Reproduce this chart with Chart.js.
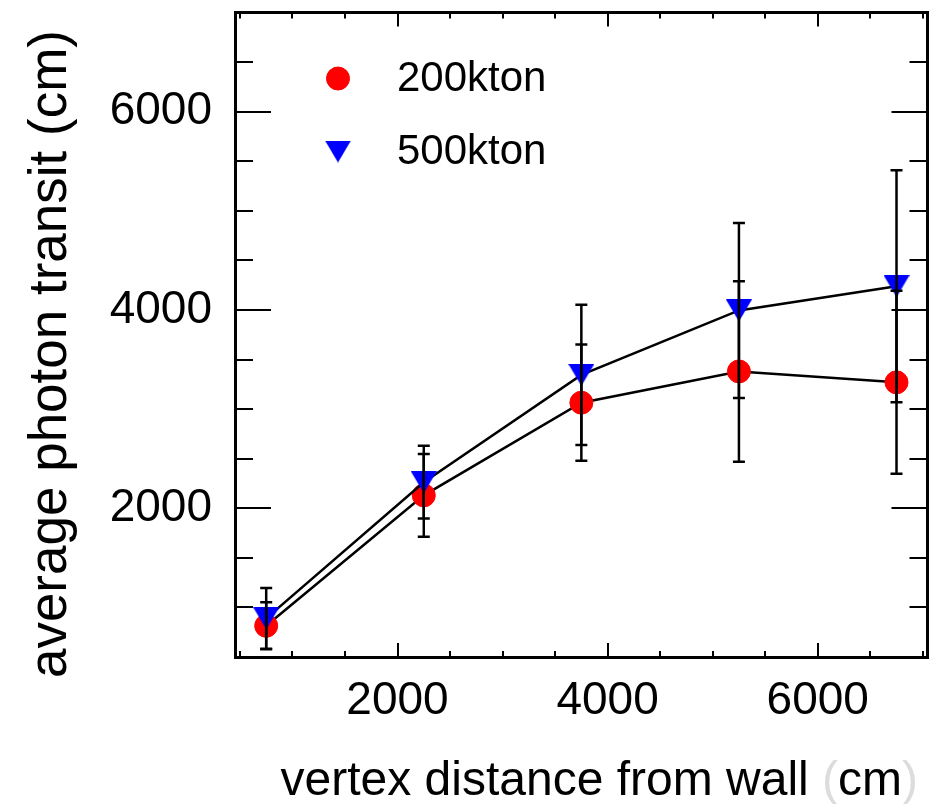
<!DOCTYPE html>
<html>
<head>
<meta charset="utf-8">
<script src="https://cdn.jsdelivr.net/npm/chart.js@4.4.1/dist/chart.umd.min.js"></script>
<style>
  html, body { margin: 0; padding: 0; background: #ffffff; }
  #wrap { width: 940px; height: 804px; }
</style>
</head>
<body>
<div id="wrap"><canvas id="plot" width="940" height="804"></canvas></div>
<script>
// Vertex distance bins (cm) and mean photon transit per detector size
const distances = [750, 2250, 3750, 5250, 6750];
const transit200 = [815, 2130, 3065, 3380, 3270];
const err200 = [238, 417, 587, 910, 923];
const transit500 = [890, 2263, 3345, 3995, 4240];
const err500 = [307, 367, 708, 882, 1170];

const seriesLabels = ['200kton', '500kton'];
const xTickLabels = [2000, 4000, 6000];
const yTickLabels = [2000, 4000, 6000];
const xRange = [453, 7045];
const yRange = [500, 7000];
const minorStep = 500;

const xTitle = 'vertex distance from wall (cm)';
const yTitle = 'average photon transit (cm)';

const FONT = '"Liberation Sans", Arial, Helvetica, sans-serif';

// minor tick positions across each axis range
function minorTicks(range) {
  const out = [];
  for (let v = Math.ceil(range[0] / minorStep) * minorStep; v <= range[1]; v += minorStep) out.push(v);
  return out;
}

// downward triangle marker drawn so that its bounding box is centred on the point
function downTriangle(w, h, color) {
  const c = document.createElement('canvas');
  c.width = w; c.height = h;
  const g = c.getContext('2d');
  g.fillStyle = color;
  g.beginPath();
  g.moveTo(0, 0); g.lineTo(w, 0); g.lineTo(w / 2, h);
  g.closePath();
  g.fill();
  return c;
}
const blueTriangle = downTriangle(26, 22, '#0000ff');

function toPoints(xs, ys) {
  return xs.map((x, i) => ({ x, y: ys[i] }));
}

// vertical error bars: lower/upper pairs separated by a gap
function errorBars(xs, ys, es) {
  const pts = [];
  xs.forEach((x, i) => {
    pts.push({ x, y: ys[i] - es[i] }, { x, y: ys[i] + es[i] }, { x, y: null });
  });
  return pts;
}

function axisScale(axis, position, weight, values, len, opts) {
  opts = opts || {};
  const range = axis === 'x' ? xRange : yRange;
  return {
    type: 'linear',
    axis, position, weight,
    min: range[0], max: range[1],
    afterBuildTicks: s => { s.ticks = values.map(v => ({ value: v })); },
    afterFit: s => {
      if (axis === 'x') s.height = opts.size || 0; else s.width = opts.size || 0;
      s.paddingTop = 0; s.paddingBottom = 0; s.paddingLeft = 0; s.paddingRight = 0;
    },
    grid: {
      drawOnChartArea: false, drawTicks: true,
      tickLength: -len, tickWidth: 2, lineWidth: 2, tickColor: '#000000'
    },
    border: { display: !!opts.border, color: '#000000', width: 3 },
    ticks: {
      display: !!opts.labels,
      autoSkip: false,
      maxRotation: 0,
      color: '#000000',
      padding: opts.padding || 0,
      font: { family: FONT, size: opts.fontSize || 12 },
      callback: v => String(v)
    }
  };
}

const titlesPlugin = {
  id: 'axisTitles',
  afterDraw(chart) {
    const ctx = chart.ctx;
    ctx.save();
    ctx.fillStyle = '#000000';

    // y title, rotated, anchored at its upper end
    ctx.font = '53px ' + FONT;
    ctx.translate(51, 30);
    ctx.rotate(-Math.PI / 2);
    ctx.textAlign = 'right';
    ctx.textBaseline = 'middle';
    ctx.fillText(yTitle, 0, 0);
    ctx.setTransform(1, 0, 0, 1, 0, 0);

    // x title, right aligned, with pale parentheses
    ctx.font = '48px ' + FONT;
    ctx.textAlign = 'left';
    ctx.textBaseline = 'alphabetic';
    const parts = xTitle.split(/([()])/).filter(p => p.length);
    const total = parts.reduce((w, p) => w + ctx.measureText(p).width, 0);
    let x = 918 - total;
    parts.forEach(p => {
      ctx.fillStyle = (p === '(' || p === ')') ? '#dcdcdc' : '#000000';
      ctx.fillText(p, x, 795);
      x += ctx.measureText(p).width;
    });
    ctx.restore();
  }
};

const legendPlugin = {
  id: 'insetLegend',
  afterDraw(chart) {
    const ctx = chart.ctx;
    const area = chart.chartArea;
    const entries = [
      { ds: 0, label: seriesLabels[0] },
      { ds: 1, label: seriesLabels[1] }
    ];
    ctx.save();
    entries.forEach((e, i) => {
      const d = chart.data.datasets[e.ds];
      const mx = area.left + 103;
      const my = area.top + 66 + i * 73;
      ctx.fillStyle = d.pointBackgroundColor;
      ctx.strokeStyle = d.pointBorderColor;
      ctx.lineWidth = d.pointBorderWidth;
      Chart.helpers.drawPoint(ctx, {
        pointStyle: d.pointStyle, radius: d.pointRadius,
        rotation: 0, borderWidth: d.pointBorderWidth
      }, mx, my);
      ctx.fillStyle = '#000000';
      ctx.font = '42px ' + FONT;
      ctx.textAlign = 'left';
      ctx.textBaseline = 'middle';
      ctx.fillText(e.label, area.left + 162, my + 1);
    });
    ctx.restore();
  }
};

const errorStyle = {
  type: 'line',
  showLine: true,
  spanGaps: false,
  borderColor: '#000000',
  borderWidth: 2.5,
  pointStyle: 'line',
  pointRadius: 6,
  pointHoverRadius: 6,
  pointBorderWidth: 2.5,
  pointBorderColor: '#000000',
  pointBackgroundColor: '#000000',
  xAxisID: 'x', yAxisID: 'y',
  order: 0
};

new Chart(document.getElementById('plot'), {
  type: 'line',
  data: {
    datasets: [
      {
        label: seriesLabels[0],
        data: toPoints(distances, transit200),
        borderColor: '#000000', borderWidth: 2.5,
        pointStyle: 'circle', pointRadius: 11.5, pointBorderWidth: 1,
        pointBackgroundColor: '#ff0000', pointBorderColor: '#ff0000',
        xAxisID: 'x', yAxisID: 'y', order: 3
      },
      {
        label: seriesLabels[1],
        data: toPoints(distances, transit500),
        borderColor: '#000000', borderWidth: 2.5,
        pointStyle: blueTriangle, pointRadius: 12, pointBorderWidth: 0,
        pointBackgroundColor: '#0000ff', pointBorderColor: '#0000ff',
        xAxisID: 'x', yAxisID: 'y', order: 2
      },
      Object.assign({ label: seriesLabels[0] + ' error', data: errorBars(distances, transit200, err200) }, errorStyle),
      Object.assign({ label: seriesLabels[1] + ' error', data: errorBars(distances, transit500, err500) }, errorStyle)
    ]
  },
  options: {
    responsive: false,
    animation: false,
    devicePixelRatio: 1,
    layout: { padding: { top: 8, right: 9, left: 0, bottom: 0 } },
    plugins: { legend: { display: false }, tooltip: { enabled: false } },
    scales: {
      xMinor: axisScale('x', 'bottom', 0, minorTicks(xRange), 6),
      x: axisScale('x', 'bottom', 1, xTickLabels, 14, { size: 147, border: true, labels: true, padding: 31, fontSize: 46 }),
      xTopMinor: axisScale('x', 'top', 0, minorTicks(xRange), 6),
      xTop: axisScale('x', 'top', 1, xTickLabels, 14, { border: true }),
      yMinor: axisScale('y', 'left', 0, minorTicks(yRange), 18),
      y: axisScale('y', 'left', 1, yTickLabels, 36, { size: 235, border: true, labels: true, padding: 59, fontSize: 46 }),
      yRightMinor: axisScale('y', 'right', 0, minorTicks(yRange), 18),
      yRight: axisScale('y', 'right', 1, yTickLabels, 36, { border: true })
    }
  },
  plugins: [titlesPlugin, legendPlugin]
});
</script>
</body>
</html>
